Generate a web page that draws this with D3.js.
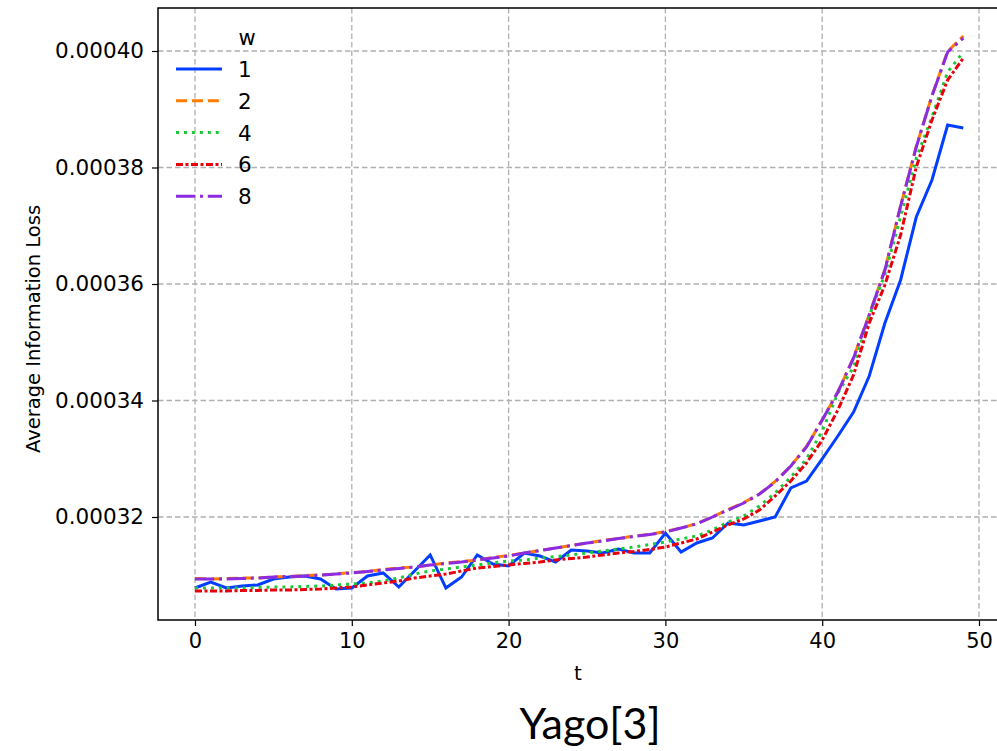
<!DOCTYPE html>
<html>
<head>
<meta charset="utf-8">
<script src="https://cdn.jsdelivr.net/npm/d3@7"></script>
<style>
  body { margin: 0; background: #fff; }
  text { font-family: "DejaVu Sans", sans-serif; fill: #000; }
</style>
</head>
<body>
<div id="viz"></div>
<script>
// t values 0..49
const ts = d3.range(0, 50);

// average information loss per window size w (x 1e-4)
const w1 = [3.0781, 3.0884, 3.0781, 3.0815, 3.0833, 3.0936, 3.0970, 3.0987, 3.0936, 3.0764,
  3.0781, 3.0987, 3.1039, 3.0798, 3.1073, 3.1348, 3.0781, 3.0970, 3.1348, 3.1193,
  3.1159, 3.1382, 3.1330, 3.1227, 3.1433, 3.1416, 3.1382, 3.1451, 3.1382, 3.1382,
  3.1725, 3.1399, 3.1554, 3.1639, 3.1897, 3.1863, 3.1931, 3.2000, 3.2498, 3.2618,
  3.2996, 3.3391, 3.3803, 3.4421, 3.5330, 3.6069, 3.7150, 3.7785, 3.8730, 3.8678];
const w2 = [3.0944, 3.0936, 3.0944, 3.0953, 3.0953, 3.0970, 3.0979, 3.0996, 3.1004, 3.1021,
  3.1047, 3.1064, 3.1099, 3.1124, 3.1142, 3.1176, 3.1210, 3.1236, 3.1262, 3.1305,
  3.1339, 3.1382, 3.1425, 3.1468, 3.1511, 3.1554, 3.1597, 3.1631, 3.1674, 3.1700,
  3.1751, 3.1811, 3.1888, 3.2000, 3.2128, 3.2249, 3.2395, 3.2610, 3.2876, 3.3211,
  3.3665, 3.4146, 3.4739, 3.5477, 3.6249, 3.7339, 3.8361, 3.9236, 3.9992, 4.0258];
const w4 = [3.0781, 3.0781, 3.0781, 3.0781, 3.0790, 3.0798, 3.0798, 3.0807, 3.0815, 3.0833,
  3.0850, 3.0867, 3.0901, 3.0953, 3.1021, 3.1073, 3.1107, 3.1142, 3.1176, 3.1210,
  3.1245, 3.1262, 3.1296, 3.1322, 3.1348, 3.1382, 3.1416, 3.1451, 3.1485, 3.1528,
  3.1571, 3.1622, 3.1674, 3.1777, 3.1914, 3.2017, 3.2189, 3.2412, 3.2687, 3.2996,
  3.3476, 3.4129, 3.4575, 3.5451, 3.6172, 3.7150, 3.8163, 3.8867, 3.9639, 3.9983];
const w6 = [3.0730, 3.0730, 3.0730, 3.0738, 3.0738, 3.0747, 3.0747, 3.0755, 3.0764, 3.0781,
  3.0798, 3.0833, 3.0867, 3.0901, 3.0953, 3.0987, 3.1021, 3.1073, 3.1124, 3.1150,
  3.1176, 3.1202, 3.1227, 3.1262, 3.1288, 3.1313, 3.1348, 3.1382, 3.1408, 3.1442,
  3.1485, 3.1554, 3.1622, 3.1742, 3.1863, 3.1966, 3.2120, 3.2361, 3.2618, 3.2927,
  3.3322, 3.3837, 3.4438, 3.5330, 3.5983, 3.6841, 3.8008, 3.8815, 3.9502, 3.9880];
const w8 = [3.0936, 3.0936, 3.0936, 3.0944, 3.0953, 3.0970, 3.0979, 3.0987, 3.1004, 3.1021,
  3.1039, 3.1064, 3.1090, 3.1116, 3.1142, 3.1176, 3.1202, 3.1227, 3.1262, 3.1296,
  3.1330, 3.1382, 3.1425, 3.1468, 3.1511, 3.1554, 3.1588, 3.1631, 3.1665, 3.1700,
  3.1742, 3.1811, 3.1880, 3.2000, 3.2120, 3.2240, 3.2395, 3.2601, 3.2876, 3.3202,
  3.3665, 3.4146, 3.4730, 3.5468, 3.6240, 3.7339, 3.8352, 3.9227, 3.9983, 4.0223];

const windowLabels = ['1', '2', '4', '6', '8'];
const xTicks = [0, 10, 20, 30, 40, 50];
const yTicks = [0.00032, 0.00034, 0.00036, 0.00038, 0.00040];

const series = [w1, w2, w4, w6, w8].map((vals, i) => ({
  label: windowLabels[i],
  values: vals.map((v, j) => [ts[j], v * 1e-4])
}));

const colors = ['#023eff', '#ff7c00', '#1ac938', '#e8000b', '#8b2be2'];
const dashes = [null, '11.1,4.8', '3,4.95', '7,2.5,3,2.5', '19.2,4.8,3,4.8'];

const w = 997;
const h = 751;
const pLeft = 158, pTop = 8, pRight = 1001, pBottom = 620;

const svg = d3.select('#viz').
  append('svg').
  attr('width', w).
  attr('height', h);

const xScale = d3.scaleLinear().
  domain([0, 50]).
  range([195, 979]);

const yScale = d3.scaleLinear().
  domain([0.00032, 0.00040]).
  range([517, 51]);

// grid
svg.append('g').
  selectAll('line').
  data(xTicks).
  enter().
  append('line').
  attr('x1', d => xScale(d)).
  attr('x2', d => xScale(d)).
  attr('y1', pTop).
  attr('y2', pBottom).
  attr('stroke', '#b0b0b0').
  attr('stroke-width', 1.3).
  attr('stroke-dasharray', '5.5,3');

svg.append('g').
  selectAll('line').
  data(yTicks).
  enter().
  append('line').
  attr('x1', pLeft).
  attr('x2', pRight).
  attr('y1', d => yScale(d)).
  attr('y2', d => yScale(d)).
  attr('stroke', '#b0b0b0').
  attr('stroke-width', 1.3).
  attr('stroke-dasharray', '5.5,3');

// axes
const xAxis = d3.axisBottom(xScale).tickValues(xTicks).tickSize(6).tickPadding(7);
const gx = svg.append('g').
  attr('transform', 'translate(0,' + pBottom + ')').
  call(xAxis);
gx.select('.domain').remove();
gx.selectAll('text').style('font-size', '21px').style('font-family', 'DejaVu Sans');
gx.selectAll('line').attr('stroke-width', 1.2);

const yAxis = d3.axisLeft(yScale).tickValues(yTicks).tickFormat(d3.format('.5f')).tickSize(6).tickPadding(8);
const gy = svg.append('g').
  attr('transform', 'translate(' + pLeft + ',0)').
  call(yAxis);
gy.select('.domain').remove();
gy.selectAll('text').style('font-size', '21.5px').style('font-family', 'DejaVu Sans');
gy.selectAll('line').attr('stroke-width', 1.2);

// lines
const line = d3.line().
  x(d => xScale(d[0])).
  y(d => yScale(d[1]));

svg.append('g').
  selectAll('path').
  data(series).
  enter().
  append('path').
  attr('d', d => line(d.values)).
  attr('fill', 'none').
  attr('stroke', (d, i) => colors[i]).
  attr('stroke-width', 3).
  attr('stroke-dasharray', (d, i) => dashes[i]);

// spines
svg.append('rect').
  attr('x', pLeft).
  attr('y', pTop).
  attr('width', pRight - pLeft).
  attr('height', pBottom - pTop).
  attr('fill', 'none').
  attr('stroke', '#000').
  attr('stroke-width', 1.5);

// legend
const legend = svg.append('g');
legend.append('text').
  attr('x', 247).
  attr('y', 45).
  attr('text-anchor', 'middle').
  style('font-size', '21px').
  text('w');

const rows = legend.selectAll('g').
  data(series).
  enter().
  append('g').
  attr('transform', (d, i) => 'translate(0,' + (69 + i * 31.8) + ')');

rows.append('line').
  attr('x1', 176).
  attr('x2', 222).
  attr('y1', 0).
  attr('y2', 0).
  attr('stroke', (d, i) => colors[i]).
  attr('stroke-width', 3).
  attr('stroke-dasharray', (d, i) => dashes[i]);

rows.append('text').
  attr('x', 238).
  attr('y', 8).
  style('font-size', '21.5px').
  text(d => d.label);

// axis labels
svg.append('text').
  attr('x', 578).
  attr('y', 680).
  attr('text-anchor', 'middle').
  style('font-size', '20px').
  text('t');

svg.append('text').
  attr('transform', 'translate(40,' + 329 + ') rotate(-90)').
  attr('text-anchor', 'middle').
  style('font-size', '19.5px').
  text('Average Information Loss');

svg.append('text').
  attr('x', 590).
  attr('y', 739).
  attr('text-anchor', 'middle').
  style('font-family', 'Lato, sans-serif').
  style('font-size', '43px').
  text('Yago[3]');
</script>
</body>
</html>
